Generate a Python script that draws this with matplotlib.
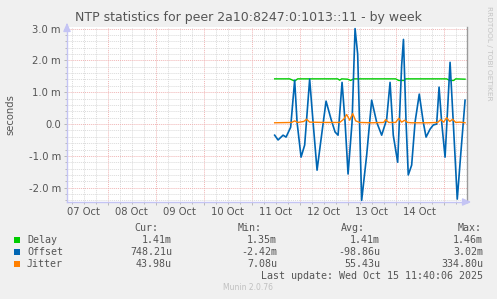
"""
Munin style weekly NTP peer graph (delay, offset, jitter).
"""

import numpy as np
import pandas as pd
import matplotlib as mpl
mpl.use('Agg')
import matplotlib.pyplot as plt
import matplotlib.dates as mdates
from matplotlib.ticker import FixedLocator, FuncFormatter


# data: hours since 2025-10-11 00:00, values in milliseconds
delay_hours = [11.5, 19.0, 20.5, 21.5, 23.0, 35.0, 43.0, 44.0, 45.0, 48.0,
               49.5, 51.0, 60.0, 72.0, 73.5, 76.0, 77.0, 86.0, 97.5, 99.0,
               101.0, 102.0, 106.7]
delay_ms = [1.42, 1.42, 1.38, 1.35, 1.42, 1.42, 1.42, 1.38, 1.42, 1.41,
            1.37, 1.42, 1.42, 1.42, 1.37, 1.37, 1.42, 1.42, 1.42, 1.37,
            1.37, 1.42, 1.41]

offset_hours = [11.5, 13.2, 15.7, 17.2, 19.5, 21.5, 22.7, 24.7, 26.5, 29.0,
                30.7, 32.7, 34.5, 37.2, 39.7, 41.7, 43.2, 45.2, 46.7, 48.2,
                50.2, 51.7, 53.0, 55.0, 57.5, 60.0, 62.5, 65.0, 67.5, 69.2,
                70.8, 73.0, 75.0, 75.9, 77.2, 78.3, 80.0, 81.7, 83.8, 85.8,
                87.2, 89.2, 90.8, 92.5, 93.7, 95.0, 96.7, 99.2, 100.8, 102.8,
                104.5, 106.7]
offset_ms = [-0.35, -0.50, -0.35, -0.41, -0.10, 1.38, 0.06, -1.04, -0.66, 1.41,
             0.06, -1.45, -0.57, 0.72, 0.15, -0.25, -0.35, 1.31, 0.06, -1.57,
             0.06, 3.00, 2.20, -2.40, -0.98, 0.75, 0.06, -0.35, 0.15, 1.31,
             -0.35, -1.20, 1.85, 2.66, 0.06, -1.60, -1.29, 0.06, 0.94, 0.06,
             -0.41, -0.16, -0.03, 0.00, 1.16, 0.06, -1.04, 1.94, 0.06, -2.36,
             -0.98, 0.75]

jitter_hours = [11.5, 20.0, 21.5, 23.0, 26.0, 27.5, 29.0, 36.0, 44.0, 46.0,
                47.5, 49.0, 50.5, 52.0, 54.0, 60.0, 66.0, 67.0, 68.5, 72.0,
                73.5, 75.0, 76.5, 78.0, 80.0, 88.0, 93.0, 94.5, 96.0, 97.5,
                99.0, 100.5, 102.0, 104.0, 106.7]
jitter_ms = [0.04, 0.05, 0.10, 0.05, 0.08, 0.15, 0.06, 0.05, 0.05, 0.15,
             0.30, 0.12, 0.33, 0.10, 0.05, 0.04, 0.05, 0.14, 0.05, 0.05,
             0.18, 0.06, 0.12, 0.05, 0.04, 0.04, 0.05, 0.14, 0.06, 0.20,
             0.08, 0.15, 0.05, 0.06, 0.04]

series_names = ['Delay', 'Offset', 'Jitter']
series_colors = ['#00cc00', '#0066b3', '#ff8000']
cur_values = ['1.41m', '748.21u', '43.98u']
min_values = ['1.35m', '-2.42m', '7.08u']
avg_values = ['1.41m', '-98.86u', '55.43u']
max_values = ['1.46m', '3.02m', '334.80u']
day_labels = ['07 Oct', '08 Oct', '09 Oct', '10 Oct', '11 Oct', '12 Oct',
              '13 Oct', '14 Oct']

base_time = pd.Timestamp('2025-10-11 00:00')
end_time = pd.Timestamp('2025-10-15 11:40:06')
start_time = end_time - pd.Timedelta(hours=200)

W, H = 497, 299
BG = '#f0f0f0'
TXT = '#555555'
AXIS = '#c4c4f4'


def to_time(hours):
    return base_time + pd.to_timedelta(np.asarray(hours), unit='h')


def fpos(x, y):
    """ Figure fraction from pixel position (origin top left). """
    return x / W, 1 - y / H


def ms_label(v, pos=None):
    if abs(v) < 1e-9:
        return '0.0'
    return '%.1f m' % v


def setup_axes(fig):
    left, top, pw, ph = 67, 27, 400, 175
    ax = fig.add_axes([left / W, 1 - (top + ph) / H, pw / W, ph / H])
    ax.set_facecolor('white')
    ax.set_xlim(start_time, end_time)
    ax.set_ylim(-2.45, 3.05)

    # grid
    dots = (0, (1, 1))
    midnights = pd.date_range('2025-10-08', '2025-10-15', freq='D')
    quarters = [t for t in pd.date_range('2025-10-07 06:00', end_time, freq='6h')
                if t.hour != 0]
    for t in quarters:
        ax.axvline(t, color='#dadada', lw=0.7, ls=dots, zorder=0)
    for t in midnights:
        ax.axvline(t, color='#f0b4b4', lw=0.7, ls=dots, zorder=0)
    ymaj = [-2, -1, 0, 1, 2, 3]
    ymin = [v / 5 for v in range(-12, 16) if v % 5 != 0]
    for v in ymin:
        ax.axhline(v, color='#dadada', lw=0.7, ls=dots, zorder=0)
    for v in ymaj:
        ax.axhline(v, color='#f0b4b4', lw=0.7, ls=dots, zorder=0)

    ax.yaxis.set_major_locator(FixedLocator(ymaj))
    ax.yaxis.set_minor_locator(FixedLocator(ymin))
    ax.yaxis.set_major_formatter(FuncFormatter(ms_label))
    ax.xaxis.set_major_locator(FixedLocator(mdates.date2num(midnights)))
    ax.xaxis.set_minor_locator(FixedLocator(mdates.date2num(quarters)))
    ax.xaxis.set_major_formatter(FuncFormatter(lambda v, p: ''))
    ax.tick_params(which='both', color='#b8b8b8', width=0.7, direction='out')
    ax.tick_params(axis='y', which='major', length=2.2, pad=2.2,
                   labelsize=7.2, labelcolor=TXT)
    ax.tick_params(axis='y', which='minor', length=1.5)
    ax.tick_params(axis='x', which='major', length=2.2)
    ax.tick_params(axis='x', which='minor', length=1.5)

    noons = pd.date_range('2025-10-07 12:00', periods=len(day_labels), freq='D')
    for t, lab in zip(noons, day_labels):
        ax.text(t, -10 / ph, lab, transform=ax.get_xaxis_transform(),
                ha='center', va='center', fontsize=7.2, color=TXT)

    ax.spines['top'].set_visible(False)
    ax.spines['right'].set_color('#9a9a9a')
    ax.spines['right'].set_linewidth(1.0)
    for s in ['left', 'bottom']:
        ax.spines[s].set_color(AXIS)
        ax.spines[s].set_linewidth(1.0)
        ax.spines[s].set_zorder(5)
    # arrow heads
    ax.annotate('', xy=(0, 1 + 7 / ph), xytext=(0, 0.99), xycoords='axes fraction',
                arrowprops=dict(arrowstyle='-|>,head_length=0.5,head_width=0.22',
                                color=AXIS, lw=1.0), annotation_clip=False)
    ax.annotate('', xy=(1 + 7 / pw, 0), xytext=(0.99, 0), xycoords='axes fraction',
                arrowprops=dict(arrowstyle='-|>,head_length=0.5,head_width=0.22',
                                color=AXIS, lw=1.0), annotation_clip=False)
    return ax


def draw_legend(fig):
    mono = dict(family='DejaVu Sans Mono', fontsize=7.2, color=TXT, va='center')
    cols = [(172, 158, 'Cur:', cur_values), (277, 262, 'Min:', min_values),
            (380, 365, 'Avg:', avg_values), (483, 482, 'Max:', max_values)]
    for vx, hx, head, vals in cols:
        fig.text(*fpos(hx, 228), head, ha='right', **mono)
        for i, v in enumerate(vals):
            fig.text(*fpos(vx, 240 + 12 * i), v, ha='right', **mono)
    for i, (name, col) in enumerate(zip(series_names, series_colors)):
        y = 240 + 12 * i
        fig.patches.append(plt.Rectangle((14 / W, 1 - (y + 3) / H), 6 / W, 6 / H,
                                         transform=fig.transFigure,
                                         facecolor=col, edgecolor='none'))
        fig.text(*fpos(27, y), name, ha='left', **mono)
    fig.text(*fpos(483, 276), 'Last update: Wed Oct 15 11:40:06 2025',
             ha='right', **mono)
    fig.text(*fpos(223, 288), 'Munin 2.0.76', ha='left', va='center',
             fontsize=5.5, color='#c0c0c0')


def main():
    fig = plt.figure(figsize=(W / 100, H / 100), dpi=100, facecolor=BG)
    ax = setup_axes(fig)
    ax.plot(to_time(delay_hours), delay_ms, color=series_colors[0], lw=1.0,
            zorder=3)
    ax.plot(to_time(offset_hours), offset_ms, color=series_colors[1], lw=1.2,
            zorder=3)
    ax.plot(to_time(jitter_hours), jitter_ms, color=series_colors[2], lw=1.0,
            zorder=4)

    fig.text(*fpos(248.5, 18), 'NTP statistics for peer 2a10:8247:0:1013::11 - by week',
             ha='center', va='center', fontsize=9, color=TXT)
    fig.text(*fpos(10, 115), 'seconds', rotation=90, ha='center', va='center',
             fontsize=7.2, color=TXT)
    fig.text(*fpos(489, 53), 'RRDTOOL / TOBI OETIKER', rotation=270,
             ha='center', va='center', fontsize=5.3, color='#c4c4c4')
    draw_legend(fig)
    fig.savefig('out.png', dpi=100, facecolor=BG)


if __name__ == "__main__":
    main()
